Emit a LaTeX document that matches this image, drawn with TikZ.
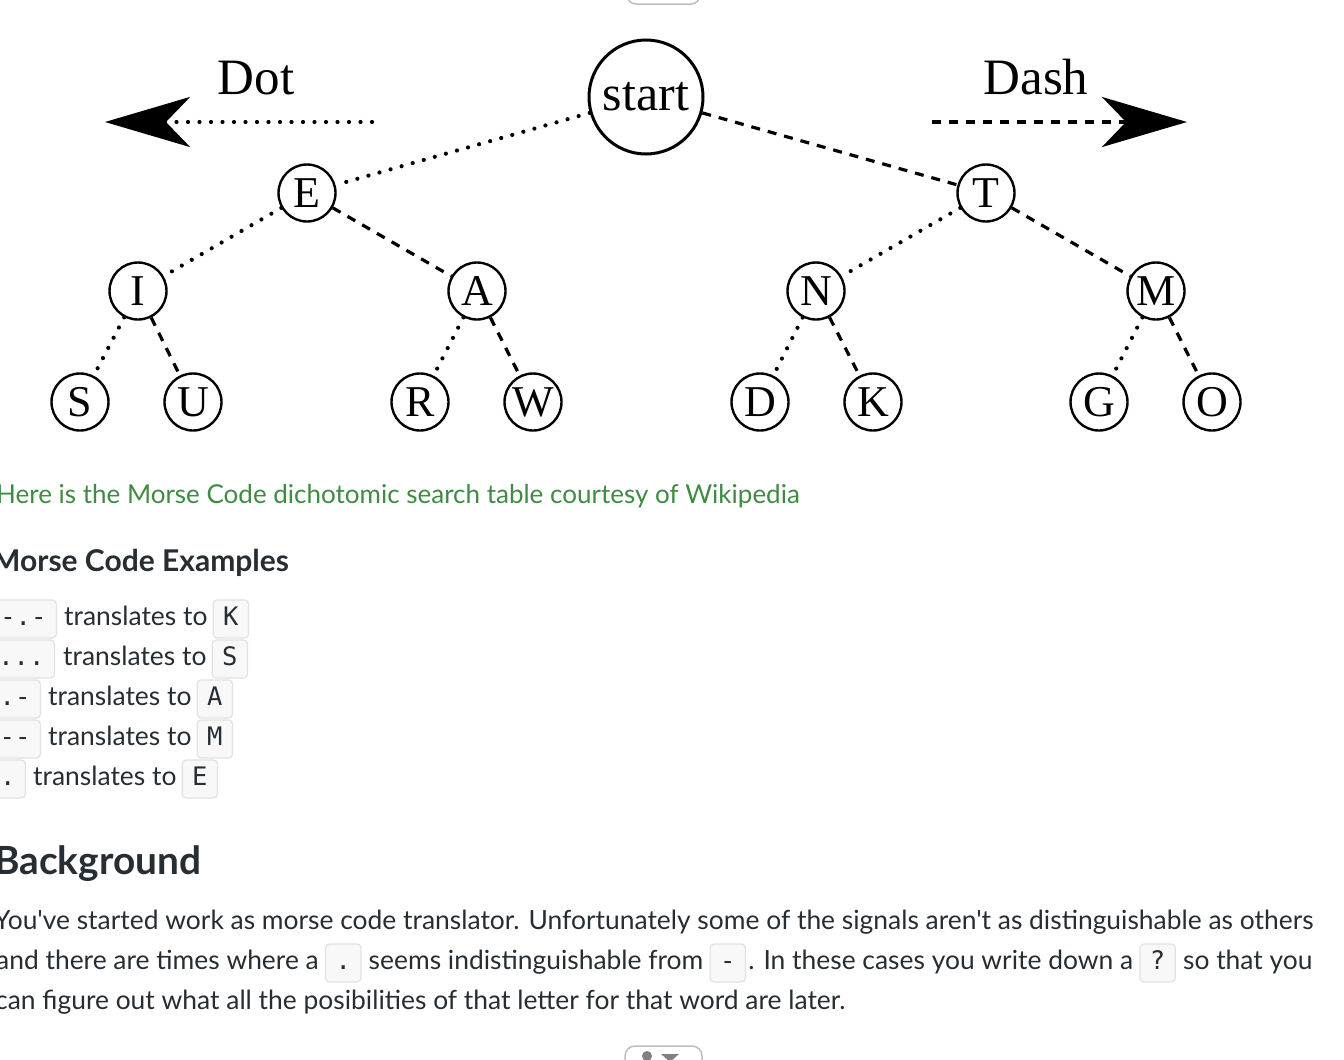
\documentclass[tikz,border=0pt]{standalone}
\usepackage{fontspec}
\usetikzlibrary{positioning, arrows.meta}
\newfontfamily\treefont{Liberation Serif}
\newfontfamily\pagefont[Ligatures=TeXOff]{Lato}
\newfontfamily\codefont[Ligatures=TeXOff]{DejaVu Sans Mono}
\definecolor{linkgreen}{HTML}{3F8B43}
\definecolor{ink}{HTML}{262E34}
\definecolor{codefill}{HTML}{F8F8F8}
\definecolor{codeline}{HTML}{E2E2E2}
\definecolor{btnline}{HTML}{BDBDBD}
\tikzstyle{startnode} = [circle, draw=black, line width=3pt, minimum size=114pt, inner sep=0pt, font=\treefont\fontsize{50}{50}\selectfont]
\tikzstyle{letter} = [circle, draw=black, line width=2.4pt, minimum size=57pt, inner sep=0pt, font=\treefont\fontsize{44}{44}\selectfont]
\tikzstyle{dotline} = [line width=4.2pt, line cap=round, dash pattern=on 0pt off 11.5pt]
\tikzstyle{dashline} = [line width=3.2pt, dash pattern=on 9pt off 8pt]
\tikzstyle{bigtip} = [-{Stealth[length=85pt, width=50pt, inset=24pt]}]
\tikzstyle{arrowtext} = [inner sep=0pt, anchor=base, font=\treefont\fontsize{51}{51}\selectfont]
\tikzstyle{headtext} = [inner sep=0pt, anchor=base west, text=ink, font=\pagefont\bfseries\fontsize{30}{30}\selectfont]
\tikzstyle{linktext} = [inner sep=0pt, anchor=base west, text=linkgreen, font=\pagefont\fontsize{26}{26}\selectfont]
\tikzstyle{bodytext} = [inner sep=0pt, text height=19pt, text depth=7pt, text=ink, font=\pagefont\fontsize{26.4}{26.4}\selectfont]
\tikzstyle{codebox} = [draw=codeline, fill=codefill, rounded corners=4pt, line width=1.2pt, inner xsep=10pt, inner ysep=6pt, text height=19pt, text depth=7pt, text=ink, font=\codefont\fontsize{25.5}{25.5}\selectfont]

\begin{document}
\begin{tikzpicture}[x=1pt, y=-1pt]
    \clip (0,0) rectangle (1344,1060);
    \fill[white] (0,0) rectangle (1344,1060);

    % bits of the page above and below
    \draw[btnline, fill=white, line width=1.5pt, rounded corners=9pt] (627,-30) rectangle (700,4);
    \draw[btnline, fill=white, line width=1.5pt, rounded corners=10pt] (625,1046) rectangle (702,1100);
    \fill[gray] (647,1056) circle (5);
    \fill[gray] (661,1054) -- (679,1054) -- (670,1062) -- cycle;

    % the tree
    \node (start) [startnode] at (646,97) {start};
    \node (letterE) [letter] at (307,193) {E};
    \node (letterT) [letter] at (986,193) {T};
    \node (letterI) [letter] at (138,291) {I};
    \node (letterA) [letter] at (477,291) {A};
    \node (letterN) [letter] at (816,291) {N};
    \node (letterM) [letter] at (1156,291) {M};
    \node (letterS) [letter] at (80,402) {S};
    \node (letterU) [letter] at (193,402) {U};
    \node (letterR) [letter] at (420,402) {R};
    \node (letterW) [letter] at (533,402) {W};
    \node (letterD) [letter] at (760,402) {D};
    \node (letterK) [letter] at (873,402) {K};
    \node (letterG) [letter] at (1099,402) {G};
    \node (letterO) [letter] at (1212,402) {O};

    \draw [dotline] (start) -- (letterE);
    \draw [dashline] (start) -- (letterT);
    \draw [dotline] (letterE) -- (letterI);
    \draw [dashline] (letterE) -- (letterA);
    \draw [dotline] (letterT) -- (letterN);
    \draw [dashline] (letterT) -- (letterM);
    \draw [dotline] (letterI) -- (letterS);
    \draw [dashline] (letterI) -- (letterU);
    \draw [dotline] (letterA) -- (letterR);
    \draw [dashline] (letterA) -- (letterW);
    \draw [dotline] (letterN) -- (letterD);
    \draw [dashline] (letterN) -- (letterK);
    \draw [dotline] (letterM) -- (letterG);
    \draw [dashline] (letterM) -- (letterO);

    % dot / dash keys
    \coordinate (dotfrom) at (372,122);
    \coordinate (dotto) at (105,122);
    \coordinate (dashfrom) at (932,122);
    \coordinate (dashto) at (1187,122);
    \draw [dotline, bigtip] (dotfrom) -- (dotto);
    \draw [dashline, bigtip] (dashfrom) -- (dashto);
    \node (dottext) [arrowtext] at (256,94) {Dot};
    \node (dashtext) [arrowtext] at (1036,94) {Dash};

    % page text
    \node (caption) [linktext] at (-4,503) {Here is the Morse Code dichotomic search table courtesy of Wikipedia};
    \node (examples) [headtext] at (-8,571) {Morse Code Examples};

    \node (exKcode) [codebox, anchor=east] at (57,619) {-.-};
    \node (exKtext) [bodytext, right=7pt of exKcode] {translates to};
    \node (exK) [codebox, right=5pt of exKtext] {K};
    \node (exScode) [codebox, anchor=east] at (55,659) {...};
    \node (exStext) [bodytext, right=8pt of exScode] {translates to};
    \node (exS) [codebox, right=5pt of exStext] {S};
    \node (exAcode) [codebox, anchor=east] at (41,699) {.-};
    \node (exAtext) [bodytext, right=7pt of exAcode] {translates to};
    \node (exA) [codebox, right=5pt of exAtext] {A};
    \node (exMcode) [codebox, anchor=east] at (41,739) {--};
    \node (exMtext) [bodytext, right=7pt of exMcode] {translates to};
    \node (exM) [codebox, right=5pt of exMtext] {M};
    \node (exEcode) [codebox, anchor=east] at (26,779) {.};
    \node (exEtext) [bodytext, right=7pt of exEcode] {translates to};
    \node (exE) [codebox, right=5pt of exEtext] {E};

    \node (background) [headtext, font=\pagefont\bfseries\fontsize{38.8}{38.8}\selectfont] at (-6,874) {Background};

    \node (lineone) [bodytext, anchor=west] at (-6,923) {You've started work as morse code translator. Unfortunately some of the signals aren't as distinguishable as others};
    \node (linetwoa) [bodytext, anchor=west] at (-4,963) {and there are times where a};
    \node (dotcode) [codebox, right=6pt of linetwoa] {.};
    \node (linetwob) [bodytext, right=7pt of dotcode] {seems indistinguishable from};
    \node (dashcode) [codebox, right=6pt of linetwob] {-};
    \node (linetwoc) [bodytext, right=2pt of dashcode] {. In these cases you write down a};
    \node (querycode) [codebox, right=6pt of linetwoc] {?};
    \node (linetwod) [bodytext, right=7pt of querycode] {so that you};
    \node (linethree) [bodytext, anchor=west] at (-5,1003) {can figure out what all the posibilities of that letter for that word are later.};
\end{tikzpicture}
\end{document}
